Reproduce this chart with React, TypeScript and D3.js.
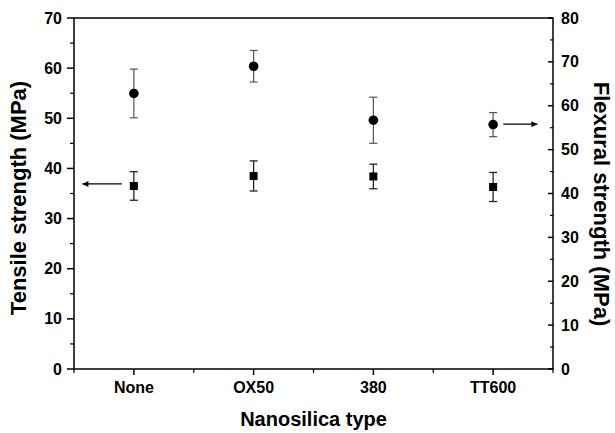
import React from 'react';
import * as d3 from 'd3';

const categories = ['None', 'OX50', '380', 'TT600'];
const tensile = [36.5, 38.5, 38.4, 36.3];
const tensileErr = [2.85, 3.0, 2.45, 2.9];
const flexural = [62.8, 69.0, 56.7, 55.7];
const flexuralErr = [5.55, 3.6, 5.25, 2.75];
const leftTicks = [0, 10, 20, 30, 40, 50, 60, 70];
const rightTicks = [0, 10, 20, 30, 40, 50, 60, 70, 80];
// arrows pointing at each series' axis: [xFrom, xTo, value]
const leftArrow = [0.8, 0.14, 36.9];
const rightArrow = [7.17, 7.74, 55.8];

const W = 615;
const H = 433;
const margin = { top: 18, right: 62, bottom: 64, left: 74 };
const font = '"Liberation Sans", Arial, sans-serif';

const App = () => {
  const x0 = margin.left;
  const x1 = W - margin.right;
  const y0 = H - margin.bottom;
  const y1 = margin.top;

  const x = d3.scaleLinear().domain([0, 8]).range([x0, x1]);
  const catX = (i) => x(2 * i + 1);
  const yL = d3.scaleLinear().domain([0, 70]).range([y0, y1]);
  const yR = d3.scaleLinear().domain([0, 80]).range([y0, y1]);

  const leftMinor = d3.range(5, 70, 10);
  const rightMinor = d3.range(5, 80, 10);
  const bottomMinor = [0, 2, 4, 6, 8];

  const cap = 4;

  return (
    <svg width={W} height={H} style={{ position: 'absolute', left: 0, top: 0, display: 'block' }}
      fontFamily={font} fontWeight="bold">
      <defs>
        <marker id="ah" viewBox="0 0 10 10" refX="10" refY="5" markerWidth="9" markerHeight="6"
          markerUnits="userSpaceOnUse" orient="auto">
          <path d="M0,0 L10,5 L0,10 z" fill="#000" />
        </marker>
      </defs>

      {/* frame */}
      <rect x={x0} y={y1} width={x1 - x0} height={y0 - y1} fill="none" stroke="#000" strokeWidth={1.5} />

      {/* left axis */}
      {leftTicks.map(t => (
        <g key={'l' + t}>
          <line x1={x0 - 7} x2={x0} y1={yL(t)} y2={yL(t)} stroke="#000" strokeWidth={1.5} />
          <text x={x0 - 12} y={yL(t)} textAnchor="end" dominantBaseline="central" fontSize={16}>{t}</text>
        </g>
      ))}
      {leftMinor.map(t => (
        <line key={'lm' + t} x1={x0 - 4} x2={x0} y1={yL(t)} y2={yL(t)} stroke="#000" strokeWidth={1.2} />
      ))}

      {/* right axis */}
      {rightTicks.map(t => (
        <g key={'r' + t}>
          <line x1={x1 - 5} x2={x1} y1={yR(t)} y2={yR(t)} stroke="#000" strokeWidth={1.5} />
          <text x={x1 + 8} y={yR(t)} textAnchor="start" dominantBaseline="central" fontSize={16}>{t}</text>
        </g>
      ))}
      {rightMinor.map(t => (
        <line key={'rm' + t} x1={x1 - 3} x2={x1} y1={yR(t)} y2={yR(t)} stroke="#000" strokeWidth={1.2} />
      ))}

      {/* bottom axis */}
      {categories.map((c, i) => (
        <g key={c}>
          <line x1={catX(i)} x2={catX(i)} y1={y0} y2={y0 + 6} stroke="#000" strokeWidth={1.5} />
          <text x={catX(i)} y={y0 + 24} textAnchor="middle" fontSize={16}>{c}</text>
        </g>
      ))}
      {bottomMinor.map(t => (
        <line key={'bm' + t} x1={x(t)} x2={x(t)} y1={y0} y2={y0 + 4} stroke="#000" strokeWidth={1.2} />
      ))}

      {/* titles */}
      <text x={x((0 + 8) / 2)} y={426} textAnchor="middle" fontSize={20}>Nanosilica type</text>
      <text transform="translate(26,198) rotate(-90)" textAnchor="middle" fontSize={22}>Tensile strength (MPa)</text>
      <text transform="translate(594,204) rotate(90)" textAnchor="middle" fontSize={22}>Flexural strength (MPa)</text>

      {/* flexural: circles with error bars */}
      {flexural.map((v, i) => {
        const cx = catX(i);
        const t = yR(v + flexuralErr[i]);
        const b = yR(v - flexuralErr[i]);
        return (
          <g key={'f' + i}>
            <line x1={cx} x2={cx} y1={t} y2={b} stroke="#555" strokeWidth={1.2} />
            <line x1={cx - cap} x2={cx + cap} y1={t} y2={t} stroke="#555" strokeWidth={1.2} />
            <line x1={cx - cap} x2={cx + cap} y1={b} y2={b} stroke="#555" strokeWidth={1.2} />
            <circle cx={cx} cy={yR(v)} r={4.8} fill="#000" />
          </g>
        );
      })}

      {/* tensile: squares with error bars */}
      {tensile.map((v, i) => {
        const cx = catX(i);
        const t = yL(v + tensileErr[i]);
        const b = yL(v - tensileErr[i]);
        return (
          <g key={'t' + i}>
            <line x1={cx} x2={cx} y1={t} y2={b} stroke="#222" strokeWidth={1.3} />
            <line x1={cx - cap} x2={cx + cap} y1={t} y2={t} stroke="#222" strokeWidth={1.3} />
            <line x1={cx - cap} x2={cx + cap} y1={b} y2={b} stroke="#222" strokeWidth={1.3} />
            <rect x={cx - 4} y={yL(v) - 4} width={8} height={8} fill="#000" />
          </g>
        );
      })}

      {/* arrows */}
      <line x1={x(leftArrow[0])} x2={x(leftArrow[1])} y1={yL(leftArrow[2])} y2={yL(leftArrow[2])}
        stroke="#000" strokeWidth={1.2} markerEnd="url(#ah)" />
      <line x1={x(rightArrow[0])} x2={x(rightArrow[1])} y1={yR(rightArrow[2])} y2={yR(rightArrow[2])}
        stroke="#000" strokeWidth={1.2} markerEnd="url(#ah)" />
    </svg>
  );
};

export default App;
